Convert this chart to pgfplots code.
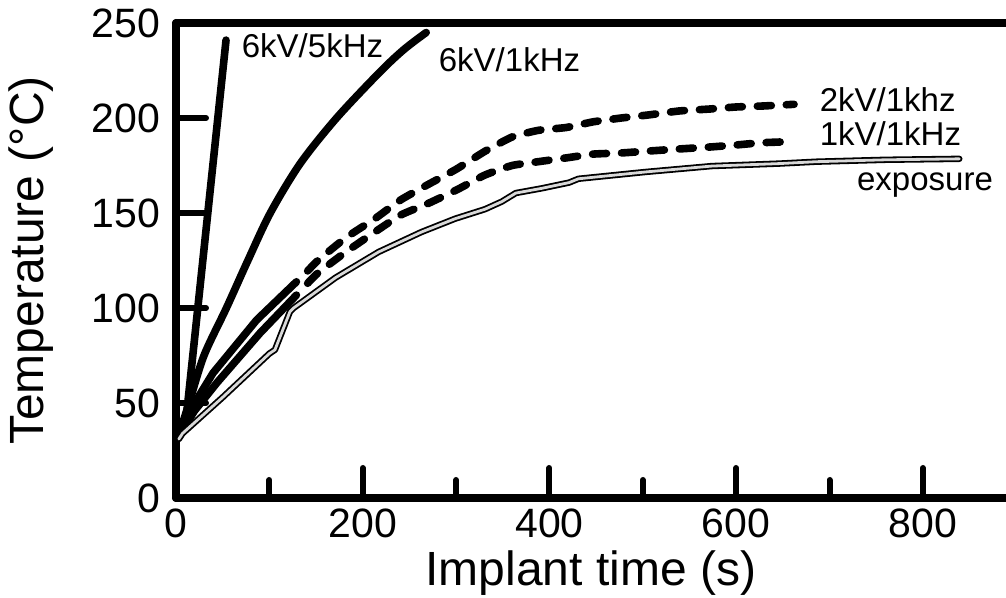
\documentclass[border=0pt]{standalone}
\usepackage{fontspec}
\setmainfont{Liberation Sans}
\usepackage{pgfplots}
\pgfplotsset{compat=1.18}

\begin{document}
\begin{tikzpicture}
\begin{axis}[
  scale only axis,
  width=415pt, height=237.5pt,
  xmin=0, xmax=889, ymin=0, ymax=250,
  clip=false,
  axis x line=box, axis y line=left,
  axis line style={line width=4pt, -, line cap=round},
  xtick={0,200,...,800}, minor xtick={100,300,500,700},
  ytick={0,50,...,250},
  xtick pos=bottom, ytick pos=left,
  tick align=inside,
  major tick length=15pt, minor tick length=9pt,
  tick style={line width=3pt, line cap=round, black},
  /pgf/number format/assume math mode=true,
  ticklabel style={font=\fontsize{20.5}{24}\selectfont},
  xticklabel style={yshift=-2pt},
  yticklabel style={xshift=-4.5pt},
  label style={font=\fontsize{24}{28}\selectfont},
  xlabel={Implant time (s)},
  ylabel={Temperature (°C)},
  xlabel style={at={(axis description cs:0.5,0)}, anchor=base, yshift=-44pt},
  ylabel style={at={(axis description cs:-0.1602,0.5)}, anchor=base, rotate=0},
  every node/.append style={inner sep=0pt},
]
% 6kV/5kHz
\addplot[black, line width=3.8pt, line cap=round] coordinates {
  (3,33) (10.7,41) (53.6,241)};
% 6kV/1kHz
\addplot[black, line width=3.8pt, line cap=round, smooth, tension=0.5] coordinates {
  (3,33) (14,50) (30,75) (54,100) (77,125) (101,150) (133,176)
  (172,200) (218,224) (244,236) (268,245)};
% 2kV/1kHz solid + dashed
\addplot[black, line width=3.8pt, line cap=round] coordinates {
  (3,33) (20,50) (39.7,65.8) (86.4,93.7) (129,113.8)};
\addplot[black, line width=3.8pt, line cap=round, dash pattern=on 7pt off 7.5pt, smooth, tension=0.3] coordinates {
  (141,119.5) (152,125) (182,137) (213,147) (241,157) (270,165) (300,173)
  (331,182.5) (360,190) (388,193.5) (418,195) (447,198) (477,200) (506,201.6)
  (539,203.7) (571,204.7) (600,205.8) (628,206.3) (662,207.2)};
% 1kV/1kHz solid + dashed
\addplot[black, line width=3.8pt, line cap=round] coordinates {
  (3,33) (20,46) (43.6,60.5) (90,86.8) (129,106.8)};
\addplot[black, line width=3.8pt, line cap=round, dash pattern=on 7pt off 7.5pt, smooth, tension=0.3] coordinates {
  (141,113) (152,118.4) (182,129.5) (213,140) (241,149) (270,155) (300,162)
  (331,170) (360,175) (388,177) (418,179) (447,181) (477,181.6) (506,182.6)
  (539,183.7) (571,184.7) (600,185.8) (628,187) (662,187.6)};
% exposure (outlined grey line)
\pgfplotstableread{
x y
3 31
7 34
50 53
100 76
106 78
122 98
126 100
171 116
217 129.5
263 140
299 147
331 152
349 156
364 160.5
392 163
421 166
431 168
503 171.6
574 174.7
646 176
686 177
760 178
839 178.5
}\exposure
\addplot[black, line width=3.2pt, line cap=round, line join=round] table {\exposure};
\addplot[black!15, line width=1.4pt, line cap=round, line join=round] table {\exposure};
\node[anchor=west, font=\fontsize{16.5}{20}\selectfont] at (axis cs:63,238) {6kV/5kHz};
\node[anchor=west, font=\fontsize{16.5}{20}\selectfont] at (axis cs:274,230.5) {6kV/1kHz};
\node[anchor=west, font=\fontsize{16.5}{20}\selectfont] at (axis cs:682,209.5) {2kV/1khz};
\node[anchor=west, font=\fontsize{16.5}{20}\selectfont] at (axis cs:682,191.5) {1kV/1kHz};
\node[anchor=base west, font=\fontsize{16.5}{20}\selectfont] at (axis cs:722,162) {exposure};
\coordinate (sw) at (rel axis cs:0,0);
\coordinate (ne) at (rel axis cs:1,1);
\end{axis}
\pgfresetboundingbox
\useasboundingbox ([xshift=-88pt,yshift=-50pt]sw) rectangle ([yshift=11.5pt]ne);
\end{tikzpicture}
\end{document}
